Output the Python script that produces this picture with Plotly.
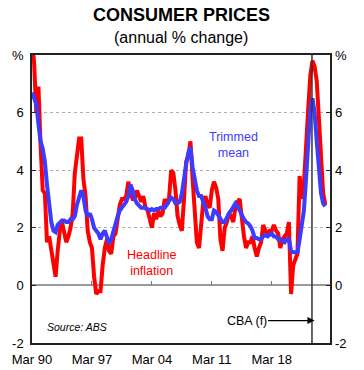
import pandas as pd
import plotly.graph_objects as go

# ---------------- data ----------------
quarters = pd.date_range("1990-03-01", periods=138, freq="QS-MAR")

headline = [
    8.6, 7.7, 6.0, 6.9,    # 1990
    4.9, 3.3, 3.2, 1.5,    # 1991
    1.7, 1.2, 0.7, 0.3,    # 1992
    1.2, 1.9, 2.2, 1.9,    # 1993
    1.5, 1.7, 2.0, 2.5,    # 1994
    3.9, 4.5, 5.1, 5.1,    # 1995
    3.7, 3.1, 1.9, 1.5,    # 1996
    1.3, 0.3, -0.3, -0.2,  # 1997
    -0.2, 0.7, 1.3, 1.6,   # 1998
    1.2, 1.1, 1.7, 1.8,    # 1999
    2.4, 2.8, 3.0, 3.0,    # 2000
    3.1, 3.6, 3.2, 3.0,    # 2001
    3.0, 3.3, 3.1, 2.9,    # 2002
    3.1, 2.7, 2.6, 2.3,    # 2003
    2.0, 2.5, 2.3, 2.6,    # 2004
    2.4, 2.5, 3.0, 2.8,    # 2005
    3.0, 4.0, 3.9, 3.3,    # 2006
    2.4, 2.1, 1.9, 3.0,    # 2007
    4.3, 4.5, 5.0, 3.7,    # 2008
    2.5, 1.5, 1.3, 2.1,    # 2009
    2.9, 3.1, 2.8, 2.7,    # 2010
    3.3, 3.6, 3.4, 3.0,    # 2011
    1.6, 1.2, 2.0, 2.2,    # 2012
    2.5, 2.4, 2.2, 2.7,    # 2013
    2.9, 3.0, 2.3, 1.7,    # 2014
    1.3, 1.5, 1.5, 1.7,    # 2015
    1.3, 1.0, 1.3, 1.5,    # 2016
    2.1, 1.9, 1.8, 1.9,    # 2017
    1.9, 2.1, 1.9, 1.8,    # 2018
    1.3, 1.6, 1.7, 1.8,    # 2019
    2.2, -0.3, 0.7, 0.9,   # 2020
    1.1, 3.8, 3.0, 3.5,    # 2021
    5.1, 6.1, 7.3, 7.8,    # 2022
    7.6, 7.1, 5.8, 4.3,    # 2023 (f)
    3.2, 2.8,              # 2024 (f)
]

trimmed_mean = [
    6.7, 6.5, 6.3, 5.6,    # 1990
    5.0, 4.75, 4.3, 3.5,   # 1991
    2.9, 2.2, 1.9, 1.85,   # 1992
    2.1, 2.2, 2.25, 2.25,  # 1993
    2.2, 2.2, 2.3, 2.3,    # 1994
    2.4, 2.8, 3.1, 3.3,    # 1995
    3.1, 2.6, 2.4, 2.5,    # 1996
    2.3, 2.0, 1.9, 1.8,    # 1997
    1.6, 1.8, 1.9, 1.7,    # 1998
    1.45, 1.6, 1.9, 2.2,   # 1999
    2.4, 2.6, 2.7, 2.8,    # 2000
    2.9, 3.1, 3.5, 3.3,    # 2001
    3.0, 2.85, 2.75, 2.7,  # 2002
    2.7, 2.7, 2.65, 2.6,   # 2003
    2.65, 2.6, 2.65, 2.65, # 2004
    2.7, 2.7, 2.7, 2.8,    # 2005
    2.9, 3.05, 3.0, 2.85,  # 2006
    2.85, 2.9, 3.2, 3.8,   # 2007
    4.2, 4.6, 4.8, 4.1,    # 2008
    3.6, 3.3, 3.1, 3.1,    # 2009
    2.9, 2.7, 2.4, 2.3,    # 2010
    2.3, 2.6, 2.55, 2.45,  # 2011
    2.3, 2.2, 2.2, 2.4,    # 2012
    2.5, 2.6, 2.75, 2.85,  # 2013
    2.75, 2.6, 2.4, 2.3,   # 2014
    2.2, 2.15, 2.05, 1.9,  # 2015
    1.65, 1.65, 1.6, 1.6,  # 2016
    1.7, 1.75, 1.7, 1.75,  # 2017
    1.8, 1.7, 1.7, 1.6,    # 2018
    1.6, 1.55, 1.5, 1.6,   # 2019
    1.6, 1.2, 1.15, 1.15,  # 2020
    1.15, 1.6, 2.1, 2.6,   # 2021
    3.7, 4.9, 6.1, 6.5,    # 2022
    6.0, 5.0, 4.1, 3.2,    # 2023 (f)
    2.85, 2.75,            # 2024 (f)
]

x_tick_dates = ["1990-03-01", "1997-03-01", "2004-03-01", "2011-03-01", "2018-03-01"]
x_tick_labels = ["Mar 90", "Mar 97", "Mar 04", "Mar 11", "Mar 18"]
y_tick_values = [-2, 0, 2, 4, 6, 8]
y_tick_labels = ["-2", "0", "2", "4", "6", "%"]
x_range = ["1990-03-01", "2024-12-18"]
y_range = [-2, 8]
forecast_start = "2022-11-10"
forecast_arrow_tip = "2023-03-01"

FONT = "Liberation Sans, Arial, sans-serif"
RED = "#ff0000"
BLUE = "#3c3cff"

fig = go.Figure()
fig.add_trace(go.Scatter(x=quarters, y=headline, mode="lines",
                         line=dict(color=RED, width=4), name="Headline inflation"))
fig.add_trace(go.Scatter(x=quarters, y=trimmed_mean, mode="lines",
                         line=dict(color=BLUE, width=4), name="Trimmed mean"))
# helper traces so the overlay axes are drawn
fig.add_trace(go.Scatter(x=[], y=[], xaxis="x2", yaxis="y", showlegend=False))
fig.add_trace(go.Scatter(x=[], y=[], xaxis="x", yaxis="y2", showlegend=False))

fig.update_layout(
    width=364, height=370,
    margin=dict(l=32, r=34, t=55, b=27, autoexpand=False),
    paper_bgcolor="white", plot_bgcolor="white",
    showlegend=False,
    font=dict(family=FONT, size=13, color="black"),
    xaxis=dict(
        type="date", range=x_range, automargin=False,
        tickvals=x_tick_dates, ticktext=x_tick_labels,
        ticks="", showgrid=False, zeroline=False,
        showline=True, linecolor="#222", linewidth=1.5, mirror=True,
        tickfont=dict(size=13), ticklabelstandoff=4,
    ),
    xaxis2=dict(
        type="date", range=x_range, overlaying="x", anchor="free",
        position=(0 - y_range[0]) / (y_range[1] - y_range[0]), automargin=False,
        tickvals=x_tick_dates, ticks="inside", ticklen=4, tickwidth=1,
        tickcolor="#777", showticklabels=False, showgrid=False,
        showline=False, zeroline=False,
    ),
    yaxis=dict(
        range=y_range, tickvals=y_tick_values, ticktext=y_tick_labels,
        automargin=False,
        ticks="inside", ticklen=4, tickcolor="#222", tickwidth=1,
        showgrid=True, gridcolor="#b0b0b0", griddash="dot", gridwidth=1,
        zeroline=True, zerolinecolor="#999", zerolinewidth=1.5,
        showline=True, linecolor="#222", linewidth=1.5, mirror="ticks",
        tickfont=dict(size=13), ticklabelstandoff=4,
    ),
    yaxis2=dict(
        range=y_range, overlaying="y", side="right", automargin=False,
        tickvals=y_tick_values, ticktext=y_tick_labels,
        ticks="", showgrid=False, zeroline=False, showline=False,
        tickfont=dict(size=13), ticklabelstandoff=4,
    ),
    shapes=[dict(type="line", xref="x", yref="paper",
                 x0=forecast_start, x1=forecast_start, y0=0, y1=1,
                 line=dict(color="#333", width=1.5))],
    annotations=[
        dict(text="<b>CONSUMER PRICES</b>", xref="paper", yref="paper",
             x=0.5, y=1.1406, xanchor="center", yanchor="middle",
             showarrow=False, font=dict(size=18, color="black")),
        dict(text="(annual % change)", xref="paper", yref="paper",
             x=0.5, y=1.0608, xanchor="center", yanchor="middle",
             showarrow=False, font=dict(size=16, color="black")),
        dict(text="Trimmed<br>mean", xref="paper", yref="paper",
             x=0.6745, y=0.689, xanchor="center", yanchor="middle",
             showarrow=False, font=dict(size=12.5, color=BLUE)),
        dict(text="Headline<br>inflation", xref="paper", yref="paper",
             x=0.401, y=0.278, xanchor="center", yanchor="middle",
             showarrow=False, font=dict(size=12.5, color=RED)),
        dict(text="<i>Source: ABS</i>", xref="paper", yref="paper",
             x=0.151, y=0.0566, xanchor="center", yanchor="middle",
             showarrow=False, font=dict(size=10.5, color="black")),
        dict(text="CBA (f)", xref="x", yref="y",
             x=forecast_arrow_tip, y=-1.22, ax=-68, ay=0,
             showarrow=True, arrowhead=2, arrowsize=1.1, arrowwidth=1.3,
             arrowcolor="black", standoff=0,
             font=dict(size=12.5, color="black")),
    ],
)

# remove the default page margin so the 364x370 figure fills the window exactly
fig.write_html("out.html",
               config={"displayModeBar": False},
               post_script="document.body.style.margin='0';document.body.style.overflow='hidden';")
